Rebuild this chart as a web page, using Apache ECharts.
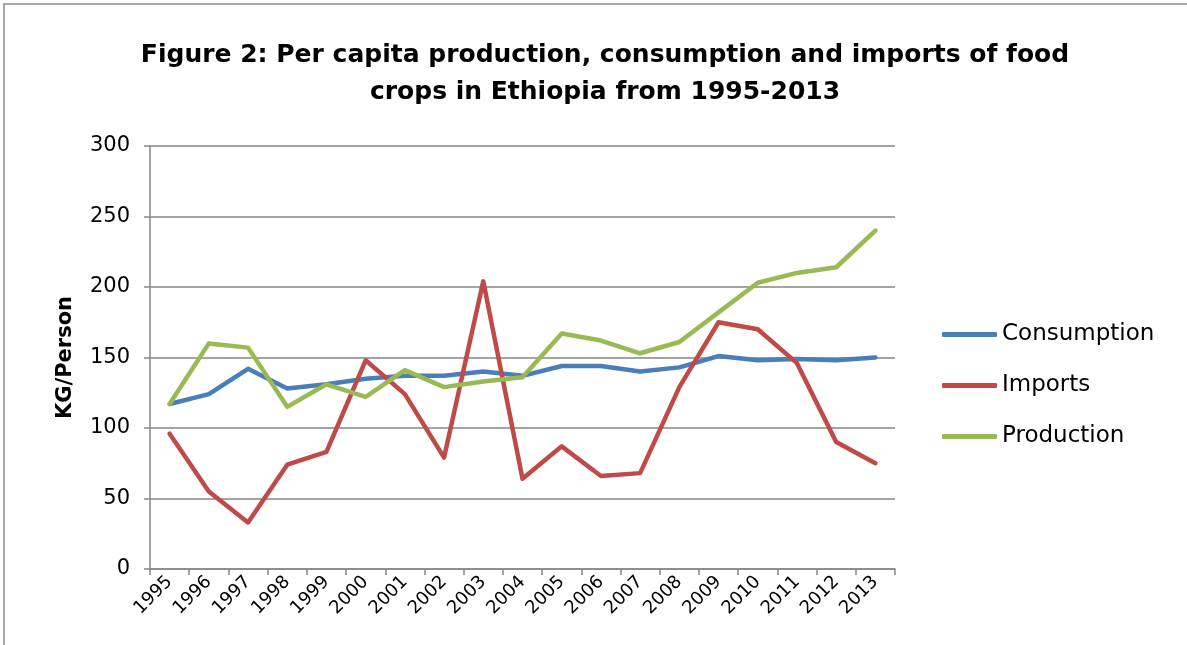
<!DOCTYPE html>
<html>
<head>
<meta charset="utf-8">
<script src="https://cdn.jsdelivr.net/npm/echarts@6/dist/echarts.min.js"></script>
<style>
  html, body { margin: 0; padding: 0; background: #fff; }
  #chart { width: 1187px; height: 645px; }
</style>
</head>
<body>
<div id="chart"></div>
<script>
// Years on the category axis
const years = ['1995','1996','1997','1998','1999','2000','2001','2002','2003','2004',
               '2005','2006','2007','2008','2009','2010','2011','2012','2013'];

// Per capita food crops, KG/Person
const consumption = [117, 124, 142, 128, 131, 135, 137, 137, 140, 137,
                     144, 144, 140, 143, 151, 148, 149, 148, 150];
const imports     = [96, 55, 33, 74, 83, 148, 124, 79, 204, 64,
                     87, 66, 68, 129, 175, 170, 146, 90, 75];
const production  = [117, 160, 157, 115, 131, 122, 141, 129, 133, 136,
                     167, 162, 153, 161, 182, 203, 210, 214, 240];

const seriesNames = ['Consumption', 'Imports', 'Production'];
const seriesColors = ['#4A7EBB', '#BE4B48', '#98B954'];
const seriesData = [consumption, imports, production];

const FONT = '"DejaVu Sans", sans-serif';
const GREY = '#868686';

const chart = echarts.init(document.getElementById('chart'), null, { renderer: 'canvas' });

chart.setOption({
  animation: false,
  backgroundColor: '#ffffff',
  title: {
    text: 'Figure 2: Per capita production, consumption and imports of food\ncrops in Ethiopia from 1995-2013',
    left: 600,
    textAlign: 'center',
    top: 32,
    textStyle: {
      fontFamily: FONT,
      fontWeight: 'bold',
      fontSize: 25,
      lineHeight: 37,
      color: '#000'
    }
  },
  graphic: [{
    type: 'rect',
    shape: { x: 4, y: 4, width: 1200, height: 700 },
    style: { fill: 'none', stroke: '#8c8c8c', lineWidth: 1.5 },
    silent: true
  }],
  legend: {
    orient: 'vertical',
    left: 937,
    top: 318,
    itemGap: 28,
    itemWidth: 55,
    itemHeight: 5,
    icon: 'roundRect',
    textStyle: { fontFamily: FONT, fontSize: 23, color: '#000' },
    data: seriesNames
  },
  grid: {
    left: 150,
    right: 292,
    top: 146,
    bottom: 76,
    containLabel: false
  },
  xAxis: {
    type: 'category',
    data: years,
    boundaryGap: true,
    axisLine: { lineStyle: { color: GREY, width: 1.5 } },
    axisTick: { show: true, alignWithLabel: false, length: 6, lineStyle: { color: GREY, width: 1.5 } },
    axisLabel: {
      interval: 0,
      rotate: 45,
      margin: 10,
      fontFamily: FONT,
      fontSize: 18,
      color: '#000'
    }
  },
  yAxis: {
    type: 'value',
    min: 0,
    max: 300,
    interval: 50,
    name: 'KG/Person',
    nameLocation: 'middle',
    nameGap: 74,
    nameRotate: 90,
    nameTextStyle: { fontFamily: FONT, fontWeight: 'bold', fontSize: 21, color: '#000' },
    axisLine: { show: true, lineStyle: { color: GREY, width: 1.5 } },
    axisTick: { show: true, length: 6, lineStyle: { color: GREY, width: 1.5 } },
    splitLine: { show: true, lineStyle: { color: GREY, width: 1.5 } },
    axisLabel: {
      margin: 20,
      fontFamily: FONT,
      fontSize: 21,
      color: '#000'
    }
  },
  series: seriesNames.map((name, i) => ({
    name: name,
    type: 'line',
    data: seriesData[i],
    symbol: 'none',
    color: seriesColors[i],
    lineStyle: { width: 4.5, color: seriesColors[i], cap: 'round', join: 'round' }
  }))
});
</script>
</body>
</html>
